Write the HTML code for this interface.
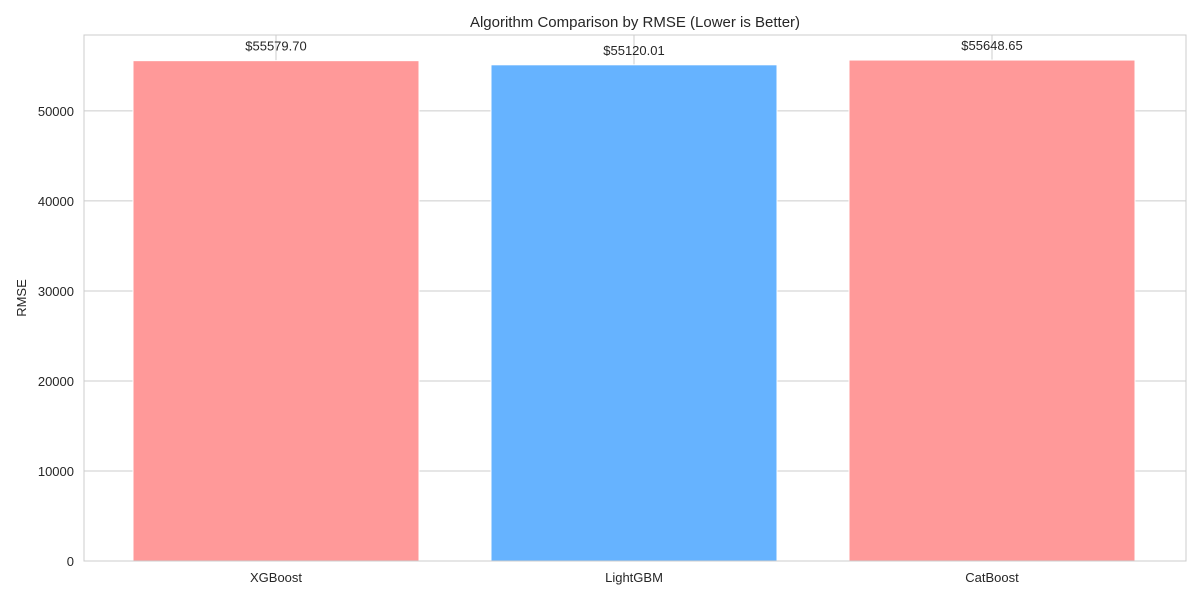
<!DOCTYPE html>
<html><head><meta charset="utf-8"><style>
body{margin:0;background:#fff;}
svg text{font-family:"Liberation Sans",Arial,sans-serif;fill:#262626;}
</style></head><body>
<svg id="chart" width="1200" height="600">
<text x="635" y="27" text-anchor="middle" font-size="15">Algorithm Comparison by RMSE (Lower is Better)</text>
<text x="26" y="298" text-anchor="middle" font-size="13" transform="rotate(-90 26 298)">RMSE</text>
<g id="grid"></g><g id="bars"></g><g id="labels"></g>
<rect x="84" y="35" width="1102" height="526" fill="none" stroke="#ccc" stroke-width="1"/>
</svg>
<script>
const categories=["XGBoost","LightGBM","CatBoost"];
const values=[55579.70,55120.01,55648.65];
const colors=["#ff9999","#66b3ff","#ff9999"];
const yTicks=[0,10000,20000,30000,40000,50000];
const ns="http://www.w3.org/2000/svg";
const y0=561,yTop=35,yMax=Math.max(...values)*1.05;
const yS=v=>y0-v/yMax*(y0-yTop);
const xS=i=>276+i*358;
const bw=286;
function mk(tag,attrs,parent){const e=document.createElementNS(ns,tag);for(const k in attrs)e.setAttribute(k,attrs[k]);document.getElementById(parent).appendChild(e);return e;}
yTicks.forEach(t=>{
 const l=mk('line',{x1:84,x2:1186,y1:yS(t),y2:yS(t),stroke:'#ccc'},'grid');
 
 
 const tx=mk('text',{x:74,y:yS(t)+5,'text-anchor':'end','font-size':13},'labels');
 tx.textContent=t;
 
 
});
categories.forEach((c,i)=>{
 const l=mk('line',{x1:xS(i),x2:xS(i),y1:35,y2:561,stroke:'#ccc'},'grid');
 
 
 const r=mk('rect',{x:xS(i)-bw/2,y:yS(values[i]),width:bw,height:y0-yS(values[i]),fill:colors[i],stroke:'#fff'},'bars');
 
 
 const v=mk('text',{x:xS(i),y:yS(values[i])-10,'text-anchor':'middle','font-size':13},'labels');
 v.textContent='$'+values[i].toFixed(2);
 
 
 const t=mk('text',{x:xS(i),y:582,'text-anchor':'middle','font-size':13},'labels');
 t.textContent=c;
 
 
});
</script>
</body></html>
